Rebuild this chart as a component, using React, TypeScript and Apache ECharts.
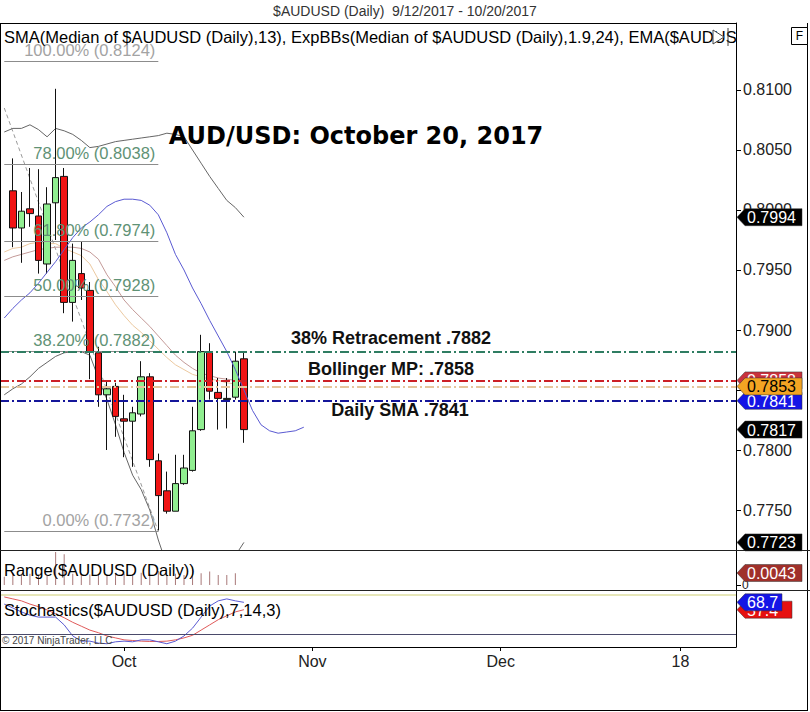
import React, { useEffect, useRef } from 'react';
import * as echarts from 'echarts';

// ---------- axis scaffolding ----------
const firstDate = '2017-09-12';
const slotCount = 86;
function weekdays(start: string, n: number): string[] {
  const out: string[] = [];
  const d = new Date(start + 'T00:00:00Z');
  while (out.length < n) {
    const wd = d.getUTCDay();
    if (wd !== 0 && wd !== 6) out.push(d.toISOString().slice(0, 10));
    d.setUTCDate(d.getUTCDate() + 1);
  }
  return out;
}
const dates = weekdays(firstDate, slotCount);

const xTickDates = ['2017-10-02', '2017-11-01', '2017-12-01', '2018-01-01'];
const xTickLabels = ['Oct', 'Nov', 'Dec', '18'];
const priceTicks = [0.775, 0.78, 0.785, 0.79, 0.795, 0.8, 0.805, 0.81];

// ---------- candles (Sep 13 .. Oct 20) ----------
const candleStart = '2017-09-13';
const opens = [0.8016, 0.7985, 0.8001, 0.7995, 0.7955, 0.8006, 0.8028, 0.7923, 0.7947, 0.7933, 0.7881, 0.7846, 0.7853, 0.7826, 0.7824, 0.7830, 0.7861, 0.7791, 0.7766, 0.7749, 0.7772, 0.7783, 0.7817, 0.7882, 0.7848, 0.7842, 0.7844, 0.7876];
const closes = [0.7985, 0.7999, 0.7997, 0.7958, 0.8005, 0.8027, 0.7923, 0.7958, 0.7935, 0.7882, 0.7846, 0.7851, 0.7828, 0.7824, 0.7831, 0.7861, 0.7792, 0.7762, 0.7749, 0.7772, 0.7785, 0.7816, 0.7882, 0.7849, 0.7843, 0.7843, 0.7874, 0.7817];
const lows = [0.7969, 0.7956, 0.7986, 0.7947, 0.7947, 0.7975, 0.7914, 0.7907, 0.7925, 0.7859, 0.7836, 0.7800, 0.7811, 0.7794, 0.7786, 0.7828, 0.7786, 0.7733, 0.7747, 0.7749, 0.7771, 0.7782, 0.7816, 0.7842, 0.7817, 0.7818, 0.7842, 0.7806];
const highs = [0.8043, 0.8015, 0.8035, 0.8034, 0.8019, 0.8101, 0.8035, 0.7972, 0.7974, 0.7940, 0.7886, 0.7857, 0.7856, 0.7846, 0.7836, 0.7874, 0.7864, 0.7797, 0.7782, 0.7796, 0.7796, 0.7836, 0.7896, 0.7889, 0.7860, 0.7860, 0.7882, 0.7881];

// ---------- indicators (from Sep 12) ----------
const bbUpper = [0.8065, 0.8068, 0.8068, 0.8071, 0.8067, 0.8061, 0.8068, 0.8066, 0.8063, 0.8058, 0.8052, 0.8053, 0.8055, 0.8057, 0.8058, 0.8059, 0.8060, 0.8061, 0.8062, 0.8064, 0.8063, 0.8061, 0.8050, 0.8039, 0.8028, 0.8018, 0.8008, 0.8002, 0.7994];
const bbMiddle = [0.7958, 0.7961, 0.7963, 0.7965, 0.7967, 0.7968, 0.7969, 0.7969, 0.7969, 0.7968, 0.7965, 0.7959, 0.7946, 0.7936, 0.7925, 0.7917, 0.7910, 0.7903, 0.7895, 0.7887, 0.7879, 0.7873, 0.7868, 0.7864, 0.7862, 0.7860, 0.7859, 0.7858, 0.7858];
const bbLower = [0.7846, 0.7851, 0.7855, 0.7861, 0.7868, 0.7873, 0.7878, 0.7881, 0.7882, 0.7882, 0.7879, 0.7860, 0.7842, 0.7821, 0.7798, 0.7779, 0.7767, 0.7750, 0.7725, 0.7704, 0.7692, 0.7683, 0.7679, 0.7683, 0.7688, 0.7693, 0.7702, 0.7712, 0.7723];
const ema = [0.7965, 0.7968, 0.7969, 0.7972, 0.7973, 0.7972, 0.7972, 0.7968, 0.7965, 0.7962, 0.7955, 0.7942, 0.7932, 0.7921, 0.7912, 0.7904, 0.7898, 0.7891, 0.7884, 0.7877, 0.7871, 0.7867, 0.7863, 0.7861, 0.7859, 0.7858, 0.7856, 0.7855, 0.7853];
const sma = [0.7910, 0.7918, 0.7925, 0.7931, 0.7939, 0.7948, 0.7957, 0.7967, 0.7977, 0.7985, 0.7990, 0.7996, 0.8003, 0.8007, 0.8009, 0.8009, 0.8008, 0.8004, 0.7996, 0.7981, 0.7963, 0.7950, 0.7935, 0.7922, 0.7908, 0.7895, 0.7882, 0.7867, 0.7850, 0.7833, 0.7821, 0.7816, 0.7814, 0.7815, 0.7816, 0.7819];

const rangeVals = [0.0030, 0.0042, 0.0036, 0.0040, 0.0038, 0.0036, 0.0118, 0.0110, 0.0040, 0.0042, 0.0038, 0.0040, 0.0036, 0.0042, 0.0040, 0.0038, 0.0044, 0.0040, 0.0050, 0.0036, 0.0040, 0.0036, 0.0066, 0.0042, 0.0048, 0.0036, 0.0036, 0.0042];
const rangeLast = 0.0043;

const stochK = [66, 60, 54, 49, 46, 46, 46, 34, 17, 9, 9, 6, 5, 8, 9, 8, 11, 11, 8, 5, 9, 17, 29, 46, 63, 71, 74, 71, 68.7];
const stochD = [77, 74, 71, 66, 62, 57, 51, 45, 38, 32, 26, 22, 17, 14, 11, 10, 9, 8.5, 8.5, 9, 11, 14, 18, 26, 34, 42, 48, 54, 57.4];
const stochLevels = [80, 20];

// ---------- Fibonacci drawing ----------
const fibStartDate = '2017-09-12';
const fibEndDate = '2017-10-06';
const fibTrendValues = [0.8085, 0.7732];
const fibPcts = ['100.00%', '78.00%', '61.80%', '50.00%', '38.20%', '0.00%'];
const fibValues = [0.8124, 0.8038, 0.7974, 0.7928, 0.7882, 0.7732];

// ---------- annotated levels ----------
const levelValues = [0.7882, 0.7858, 0.7853, 0.7841];
const levelColors = ['#2f7d62', '#cc2027', '#e6c59c', '#15169a'];
const noteTexts = ['38% Retracement .7882', 'Bollinger MP: .7858', 'Daily SMA .7841'];
const noteValues = [0.7882, 0.7858, 0.7841];

// ---------- price tags on right axis ----------
const priceTagValues = [0.7994, 0.7858, 0.7841, 0.7853, 0.7817, 0.7723];
const priceTagBg = ['#000000', '#c8323c', '#1414e6', '#f3a423', '#000000', '#000000'];
const priceTagFg = ['#ffffff', '#ffffff', '#ffffff', '#000000', '#ffffff', '#ffffff'];

const FONT = '"Liberation Sans", Arial, sans-serif';

export default function App() {
  const ref = useRef<HTMLDivElement>(null);

  useEffect(() => {
    if (!ref.current) return;
    const chart = echarts.init(ref.current, null, { renderer: 'svg', width: 810, height: 712 });

    const labelMap: Record<string, string> = {};
    xTickDates.forEach((d, i) => (labelMap[d] = xTickLabels[i]));
    const tickFn = (_i: number, v: string) => v in labelMap;

    const cIdx = dates.indexOf(candleStart);
    const candleData = dates.map((_, i) => {
      const k = i - cIdx;
      return k >= 0 && k < opens.length ? [opens[k], closes[k], lows[k], highs[k]] : '-';
    });

    const fibColor = (i: number) => (i === 0 || i === fibPcts.length - 1 ? '#a3a3a3' : '#5f9275');

    const option: any = {
      animation: false,
      backgroundColor: '#ffffff',
      grid: [
        { left: 0, top: 23, width: 736, height: 527 },
        { left: 0, top: 551, width: 736, height: 39 },
        { left: 0, top: 591, width: 736, height: 56 },
      ],
      xAxis: [0, 1, 2].map((g) => ({
        type: 'category',
        gridIndex: g,
        data: dates,
        boundaryGap: true,
        axisLine: { show: g === 2, lineStyle: { color: '#000', width: 1 } },
        axisTick: { show: g === 2, interval: tickFn, alignWithLabel: true, length: 4, lineStyle: { color: '#000' } },
        axisLabel: {
          show: g === 2,
          interval: tickFn,
          formatter: (v: string) => labelMap[v] || '',
          fontSize: 16,
          color: '#222',
          margin: 6,
          fontFamily: FONT,
        },
        splitLine: { show: false },
      })),
      yAxis: [
        {
          type: 'value',
          gridIndex: 0,
          position: 'right',
          min: 0.771667,
          max: 0.815583,
          axisLine: { show: true, lineStyle: { color: '#000' } },
          axisTick: { show: true, length: 5, customValues: priceTicks, lineStyle: { color: '#000' } },
          axisLabel: {
            customValues: priceTicks,
            formatter: (v: number) => v.toFixed(4),
            fontSize: 16,
            color: '#222',
            margin: 7,
            fontFamily: FONT,
          },
          splitLine: { show: false },
        },
        {
          type: 'value',
          gridIndex: 1,
          position: 'right',
          min: -0.0018,
          max: 0.0122,
          axisLine: { show: true, lineStyle: { color: '#000' } },
          axisTick: { show: true, length: 5, customValues: [0], lineStyle: { color: '#000' } },
          axisLabel: { customValues: [0], formatter: () => '0', fontSize: 12, color: '#222', margin: 6, fontFamily: FONT },
          splitLine: { show: false },
        },
        {
          type: 'value',
          gridIndex: 2,
          position: 'right',
          min: 0,
          max: 86.15,
          axisLine: { show: true, lineStyle: { color: '#000' } },
          axisTick: { show: false },
          axisLabel: { show: false },
          splitLine: { show: false },
        },
      ],
      series: [
        {
          name: 'fib',
          type: 'line',
          xAxisIndex: 0,
          yAxisIndex: 0,
          data: [
            [fibStartDate, fibTrendValues[0]],
            [fibEndDate, fibTrendValues[1]],
          ],
          symbol: 'none',
          lineStyle: { color: '#9a9a9a', width: 1, type: [4, 3] },
          z: 2,
          markLine: {
            silent: true,
            precision: 6,
            symbol: ['none', 'none'],
            data: fibValues.map((v, i) => {
              const lbl = {
                show: true,
                position: 'insideEndTop',
                distance: 3,
                formatter: `${fibPcts[i]} (${v.toFixed(4)})`,
                fontSize: 16.5,
                color: fibColor(i),
                fontFamily: FONT,
              };
              const ls = { color: '#8c8c8c', width: 1, type: 'solid' };
              return [
                { coord: [fibStartDate, v], label: lbl, lineStyle: ls },
                { coord: [fibEndDate, v], label: lbl, lineStyle: ls },
              ];
            }),
          },
        },
        {
          name: 'BB upper',
          type: 'line',
          data: bbUpper,
          symbol: 'none',
          lineStyle: { color: '#666666', width: 1 },
          z: 2,
          markLine: {
            silent: true,
            precision: 6,
            symbol: ['none', 'none'],
            label: { show: false },
            data: levelValues.map((v, i) => ({
              yAxis: v,
              lineStyle: { color: levelColors[i], width: 2, type: [9, 3, 2, 3], opacity: 1 },
            })),
          },
        },
        {
          name: 'BB middle',
          type: 'line',
          data: bbMiddle,
          symbol: 'none',
          lineStyle: { color: '#c49a98', width: 1 },
          z: 2,
        },
        {
          name: 'BB lower',
          type: 'line',
          data: bbLower,
          symbol: 'none',
          lineStyle: { color: '#666666', width: 1 },
          z: 2,
        },
        {
          name: 'EMA',
          type: 'line',
          data: ema,
          symbol: 'none',
          lineStyle: { color: '#ecc9a0', width: 1 },
          z: 2,
        },
        {
          name: 'SMA',
          type: 'line',
          data: sma,
          symbol: 'none',
          lineStyle: { color: '#5a5ad2', width: 1 },
          z: 4,
        },
        {
          name: 'AUDUSD',
          type: 'candlestick',
          xAxisIndex: 0,
          yAxisIndex: 0,
          data: candleData,
          barWidth: 7,
          z: 3,
          itemStyle: {
            color: '#90ee90',
            color0: '#f01414',
            borderColor: '#111',
            borderColor0: '#111',
            borderWidth: 1,
          },
        },
        {
          name: 'Range',
          type: 'bar',
          xAxisIndex: 1,
          yAxisIndex: 1,
          data: rangeVals,
          barWidth: 1,
          itemStyle: { color: '#a87878' },
        },
        {
          name: '%K',
          type: 'line',
          xAxisIndex: 2,
          yAxisIndex: 2,
          data: stochK,
          symbol: 'none',
          lineStyle: { color: '#5a5ad2', width: 1 },
          z: 3,
        },
        {
          name: '%D',
          type: 'line',
          xAxisIndex: 2,
          yAxisIndex: 2,
          data: stochD,
          symbol: 'none',
          lineStyle: { color: '#e05a5a', width: 1 },
          z: 2,
          markLine: {
            silent: true,
            symbol: ['none', 'none'],
            label: { show: false },
            data: [
              { yAxis: stochLevels[0], lineStyle: { color: '#e6e6b8', width: 2, type: 'solid' } },
              { yAxis: stochLevels[1], lineStyle: { color: '#4a4a6a', width: 1, type: 'solid' } },
            ],
          },
        },
      ],
    };

    chart.setOption(option);

    const py = (axis: number, v: number) => chart.convertToPixel({ yAxisIndex: axis } as any, v) as number;

    const txt = (x: number, y: number, text: string, size: number, color: string, align = 'left', weight = 'normal', z = 50, family = FONT) => ({
      type: 'text',
      x,
      y,
      z,
      silent: true,
      style: {
        text,
        fontSize: size,
        fontFamily: family,
        fontWeight: weight,
        fill: color,
        align,
        textAlign: align,
        verticalAlign: 'middle',
        textVerticalAlign: 'middle',
      },
    });
    const line = (x1: number, y1: number, x2: number, y2: number, color: string, w = 1, z = 40) => ({
      type: 'line',
      z,
      silent: true,
      shape: { x1, y1, x2, y2 },
      style: { stroke: color, lineWidth: w },
    });
    const tag = (y: number, bg: string, fg: string, text: string, right: number, z: number) => ({
      type: 'group',
      z,
      children: [
        {
          type: 'polygon',
          z,
          shape: { points: [[737, y], [745, y - 8.5], [right, y - 8.5], [right, y + 8.5], [745, y + 8.5]] },
          style: { fill: bg, stroke: '#333', lineWidth: 0.5 },
        },
        {
          type: 'text',
          z: z + 1,
          x: 747,
          y: y + 0.5,
          style: { text, fontSize: 16, fontFamily: FONT, fill: fg, verticalAlign: 'middle', textVerticalAlign: 'middle' },
        },
      ],
    });

    const noteX = [391, 391, 400];
    const noteDy = [-14, -11, 9];

    const graphic: any[] = [
      // frame
      line(0, 23.5, 736, 23.5, '#000'),
      line(0.5, 23, 0.5, 711, '#000'),
      line(0, 710.5, 808, 710.5, '#000'),
      line(807.5, 23, 807.5, 711, '#000'),
      line(0, 550.5, 810, 550.5, '#222'),
      line(0, 590.5, 810, 590.5, '#222'),
      // title and legend
      txt(405, 11, '$AUDUSD (Daily)  9/12/2017 - 10/20/2017', 14, '#333', 'center'),
      txt(4, 37, 'SMA(Median of $AUDUSD (Daily),13), ExpBBs(Median of $AUDUSD (Daily),1.9,24), EMA($AUDUS', 16.5, '#000'),
      {
        type: 'polygon',
        z: 51,
        shape: { points: [[713, 30], [713, 44], [724, 37]] },
        style: { fill: '#fff', stroke: '#444', lineWidth: 1 },
      },
      line(728, 28, 728, 46, '#444', 1, 51),
      {
        type: 'rect',
        z: 50,
        shape: { x: 791.5, y: 27.5, width: 16, height: 17 },
        style: { fill: '#fff', stroke: '#000', lineWidth: 1 },
      },
      txt(799.5, 36, 'F', 12, '#000', 'center', 'normal', 51),
      // big annotation
      txt(356, 136, 'AUD/USD: October 20, 2017', 24, '#000', 'center', 'bold', 50, '"DejaVu Sans", sans-serif'),
      // panel titles
      txt(4, 570, 'Range($AUDUSD (Daily))', 16.5, '#000'),
      txt(4, 610, 'Stochastics($AUDUSD (Daily),7,14,3)', 16.5, '#000'),
      txt(2, 640, '\u00a9 2017 NinjaTrader, LLC', 10, '#444'),
    ];

    noteTexts.forEach((t, i) => {
      graphic.push(txt(noteX[i], py(0, noteValues[i]) + noteDy[i], t, 18, '#111', 'center', 'bold'));
    });

    priceTagValues.forEach((v, i) => {
      graphic.push(tag(py(0, v), priceTagBg[i], priceTagFg[i], v.toFixed(4), 802, 60 + i * 2));
    });
    graphic.push(tag(py(1, rangeLast), '#a0302a', '#ffffff', rangeLast.toFixed(4), 802, 60));
    graphic.push(tag(py(2, stochD[stochD.length - 1]), '#e61010', '#ffffff', stochD[stochD.length - 1].toFixed(1), 792, 60));
    graphic.push(tag(py(2, stochK[stochK.length - 1]), '#1414e6', '#ffffff', stochK[stochK.length - 1].toFixed(1), 782, 63));

    chart.setOption({ graphic });

    return () => chart.dispose();
  }, []);

  return <div ref={ref} style={{ position: 'absolute', left: 0, top: 0, width: 810, height: 712 }} />;
}
